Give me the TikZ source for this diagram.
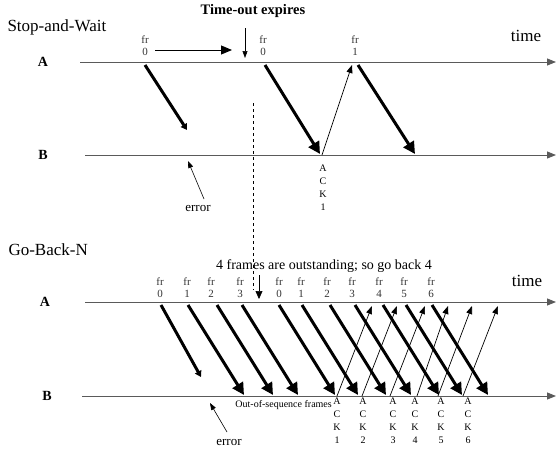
\documentclass[tikz,border=0pt]{standalone}
\usepackage{fontspec}
\setmainfont{Liberation Serif}
\usepackage{xcolor}
\usetikzlibrary{arrows.meta,positioning}
\definecolor{axis}{RGB}{90,90,90}

\begin{document}
\begin{tikzpicture}[x=1pt,y=-1pt,
  timeline/.style={axis,line width=0.9pt,-{Triangle[length=9pt,width=7pt]}},
  frame/.style={line width=3pt,-{Triangle[length=12pt,width=12pt]}},
  lost/.style={line width=3pt,-{Triangle[length=6pt,width=7pt]}},
  ack/.style={line width=0.7pt,-{Triangle[length=8pt,width=6pt]}},
  frlab/.style={align=center,font={\fontsize{11}{12}\selectfont},inner sep=0pt,text=black!80},
  acklab/.style={align=center,font={\fontsize{10}{13}\selectfont},inner sep=0pt},
  title/.style={anchor=west,font={\fontsize{17}{20}\selectfont}},
  side/.style={font={\fontsize{14}{16}\selectfont\bfseries}},
  timelab/.style={font={\fontsize{17}{20}\selectfont}},
  errlab/.style={font={\fontsize{13}{15}\selectfont}}]
\useasboundingbox (0,0) rectangle (560,453);
% stop-and-wait
\node[title] (sw) at (4,27) {Stop-and-Wait};
\node[font={\fontsize{14.5}{16}\selectfont\bfseries}] (tout) at (253,11) {Time-out expires};
\node[side] (A1) at (43,62) {A};
\node[side] (B1) at (43,155) {B};
\node[timelab] (time1) at (526,36) {time};
\coordinate (a1) at (80,62);  \coordinate (a1end) at (556,62);
\coordinate (b1) at (85,155); \coordinate (b1end) at (556,155);
\draw[timeline] (a1) -- (a1end);
\draw[timeline] (b1) -- (b1end);
\node[frlab] (sf0) at (145,46) {fr\\0};
\node[frlab] (sf0b) at (263,46) {fr\\0};
\node[frlab] (sf1) at (355,46) {fr\\1};
\draw[line width=0.9pt,-{Triangle[length=11pt,width=9pt]}] (155,50) coordinate (w0) -- (232,50) coordinate (w1);
\draw[line width=0.6pt,-{Triangle[length=7pt,width=5pt]}] (245,28) coordinate (t0) -- (245,58) coordinate (t1);
\draw[lost] (145,65) coordinate (s0) -- (187,130) coordinate (s0x);
\draw[frame] (265,65) coordinate (s1) -- (320,154) coordinate (s1x);
\draw[ack] (322,155) coordinate (k1) -- (352,65) coordinate (k1x);
\draw[frame] (358,65) coordinate (s2) -- (415,154) coordinate (s2x);
\node[acklab] (sack) at (323,188) {A\\C\\K\\1};
\node[errlab] (err1) at (198,208) {error};
\draw[line width=0.6pt,-{Triangle[length=7pt,width=5pt]}] (204,199) -- (188,161);
\draw[dashed,line width=0.6pt] (253,103) coordinate (d0) -- (253,290) coordinate (d1);
% go-back-n
\node[title] (gbn) at (5,250) {Go-Back-N};
\node[font={\fontsize{14}{16}\selectfont}] (back) at (324,266) {4 frames are outstanding; so go back 4};
\draw[line width=0.6pt,-{Triangle[length=8pt,width=7pt]}] (259,275) coordinate (b0) -- (259,299) coordinate (b1x);
\node[side] (A2) at (45,302) {A};
\node[side] (B2) at (47,396) {B};
\node[timelab] (time2) at (527,281) {time};
\coordinate (a2) at (85,302);  \coordinate (a2end) at (556,302);
\coordinate (b2) at (82,396);  \coordinate (b2end) at (556,396);
\draw[timeline] (a2) -- (a2end);
\draw[timeline] (b2) -- (b2end);
\foreach \x/\n [count=\i] in {160/0,187/1,211/2,240/3,279/0,301/1,327/2,352/3,379/4,404/5,431/6}
  \node[frlab] (gf\i) at (\x,288) {fr\\\n};
\draw[lost] (161,305) coordinate (g0) -- (201,377) coordinate (g0x);
\foreach \x in {188,217,242,279,302,330,355,383,406,432}
  \draw[frame] (\x,305) -- ++(56,90);
\foreach \x/\y in {337/372,362/397,390/425,417/448,438/472,463/498}
  \draw[ack] (\x,396) -- (\y,306);
\foreach \x/\n in {337/1,363/2,393/3,415/4,441/5,468/6}
  \node[acklab] (gack\n) at (\x,421) {A\\C\\K\\\n};
\node[anchor=east,font={\fontsize{10}{12}\selectfont},inner sep=0pt] (oos) at (332,405) {Out-of-sequence frames};
\node[errlab] (err2) at (229,442) {error};
\draw[line width=0.6pt,-{Triangle[length=7pt,width=5pt]}] (227,432) -- (210,403);
\end{tikzpicture}
\end{document}
